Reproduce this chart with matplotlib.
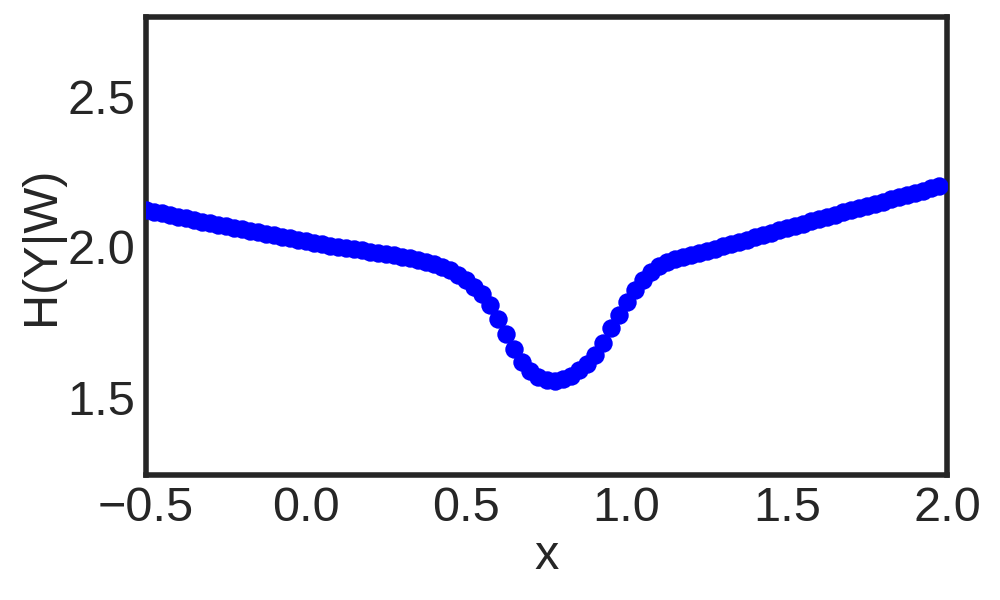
import numpy as np
import matplotlib
matplotlib.use('Agg')
import matplotlib.pyplot as plt

# x grid (step 0.025) and H(Y|W) values
x_vals = np.round(np.arange(-0.5, 1.975 + 1e-9, 0.025), 3)

h_left = [2.123, 2.117, 2.111, 2.106, 2.100, 2.095, 2.089, 2.084, 2.078, 2.073,
          2.068, 2.063, 2.058, 2.053, 2.048, 2.044, 2.039, 2.034, 2.029, 2.024,
          2.019, 2.014, 2.009, 2.004, 2.000, 1.996, 1.992, 1.988, 1.984, 1.980,
          1.976, 1.971, 1.966, 1.961, 1.955, 1.948, 1.941]
h_dip = [1.933, 1.922, 1.906, 1.888, 1.867, 1.843, 1.807, 1.760, 1.710, 1.660,
         1.617, 1.587, 1.567, 1.557, 1.553, 1.560, 1.570, 1.590, 1.610, 1.640,
         1.680, 1.730, 1.773, 1.817, 1.857, 1.890, 1.917]
h_right = [1.935, 1.948, 1.958, 1.966, 1.973, 1.980, 1.987, 1.994, 2.001, 2.008,
           2.016, 2.023, 2.031, 2.039, 2.047, 2.055, 2.063, 2.070, 2.077, 2.085,
           2.092, 2.099, 2.107, 2.114, 2.121, 2.128, 2.135, 2.143, 2.150, 2.158,
           2.165, 2.173, 2.180, 2.187, 2.195, 2.202]
h_vals = h_left + h_dip + h_right

plt.style.use('seaborn-v0_8-white')
plt.rcParams['font.family'] = ['Liberation Sans', 'DejaVu Sans']
plt.rcParams['text.color'] = '#262626'

fig = plt.figure(figsize=(5, 3), dpi=200)
ax = fig.add_axes([0.146, 0.208, 0.801, 0.764])

ax.scatter(x_vals, h_vals, s=44, color='blue', linewidths=0, zorder=3)

ax.set_xlim(-0.5, 2.0)
ax.set_ylim(1.24, 2.765)
ax.set_xticks([-0.5, 0.0, 0.5, 1.0, 1.5, 2.0])
ax.set_yticks([1.5, 2.0, 2.5])
ax.tick_params(labelsize=17.5, colors='#262626', length=0, pad=4)
ax.set_xlabel('x', fontsize=17.5, color='#262626', labelpad=1)
ax.set_ylabel('H(Y|W)', fontsize=17.5, color='#262626', labelpad=1)

for sp in ax.spines.values():
    sp.set_linewidth(2.0)
    sp.set_color('#262626')

fig.savefig('out.png', dpi=200)
